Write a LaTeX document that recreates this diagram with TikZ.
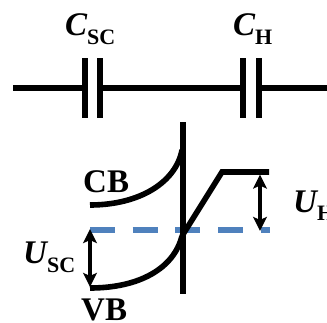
\documentclass[tikz,border=0pt]{standalone}
\usepackage{fontspec}
\setmainfont{Liberation Serif}
\usetikzlibrary{arrows.meta}
\tikzset{
  x=1pt,y=-1pt,
  wire/.style={line width=5.2pt,black},
  plate/.style={line width=6pt,black},
  band/.style={line width=5.6pt,black},
  level/.style={line width=6pt,color={rgb,255:red,79;green,129;blue,189},dash pattern=on 25pt off 17.7pt},
  gap/.style={line width=3.6pt,black,{Stealth[length=14pt,width=13.5pt,inset=3pt]}-{Stealth[length=14pt,width=13.5pt,inset=3pt]}},
  lab/.style={inner sep=0pt,font=\fontsize{33}{33}\selectfont\bfseries},
  sym/.style={inner sep=0pt,font=\fontsize{33}{33}\selectfont\bfseries\itshape}
}
\newcommand{\subt}[1]{{\fontsize{22}{22}\selectfont\bfseries\upshape #1}}
\begin{document}
\begin{tikzpicture}
\useasboundingbox (0,0) rectangle (327,322);
\clip (0,0) rectangle (327,322);
% circuit
\coordinate (wl) at (13,88);
\coordinate (wr) at (327,88);
\coordinate (p1t) at (84.5,58); \coordinate (p1b) at (84.5,118);
\coordinate (p2t) at (100,58);  \coordinate (p2b) at (100,118);
\coordinate (p3t) at (243,58);  \coordinate (p3b) at (243,118);
\coordinate (p4t) at (259,58);  \coordinate (p4b) at (259,118);
\coordinate (m1) at (84.5,88); \coordinate (m2) at (100,88);
\coordinate (m3) at (243,88);  \coordinate (m4) at (259,88);
\draw[wire] (wl) -- (m1);
\draw[wire] (m2) -- (m3);
\draw[wire] (m4) -- (wr);
\draw[plate] (p1t) -- (p1b);
\draw[plate] (p2t) -- (p2b);
\draw[plate] (p3t) -- (p3b);
\draw[plate] (p4t) -- (p4b);
\node[sym,anchor=base west] (csc) at (65,35) {C\subt{\raisebox{-9pt}{SC}}};
\node[sym,anchor=base west] (ch) at (233,35) {C\subt{\raisebox{-9pt}{H}}};
% band diagram
\coordinate (it) at (182.5,122);
\coordinate (ib) at (182.5,294);
\coordinate (cbl) at (90,205);
\coordinate (cbr) at (182,150);
\coordinate (vbl) at (90,288);
\coordinate (vbr) at (182,236);
\coordinate (dt) at (222,172);
\coordinate (dr) at (269,172);
\coordinate (fl) at (90,229.5);
\coordinate (fr) at (269.5,229.5);
\draw[level] (fl) -- (fr);
\draw[plate] (it) -- (ib);
\draw[band] (cbl) .. controls (140,205) and (176,182) .. (cbr);
\draw[band] (vbl) .. controls (140,288) and (174,268) .. (vbr);
\draw[band,line join=miter] (vbr) -- (dt) -- (dr);
\coordinate (ua) at (260,174.5);
\coordinate (ub) at (260,231);
\coordinate (va) at (90,229);
\coordinate (vb) at (90,287);
\draw[gap] (ua) -- (ub);
\draw[gap] (va) -- (vb);
\node[lab,anchor=base west] (cb) at (83,192.5) {CB};
\node[lab,anchor=base west] (vbt) at (81,320.5) {VB};
\node[sym,anchor=base west] (uh) at (293,212) {U\subt{\raisebox{-8pt}{H}}};
\node[sym,anchor=base west] (usc) at (23,263) {U\subt{\raisebox{-9pt}{SC}}};
\end{tikzpicture}
\end{document}
